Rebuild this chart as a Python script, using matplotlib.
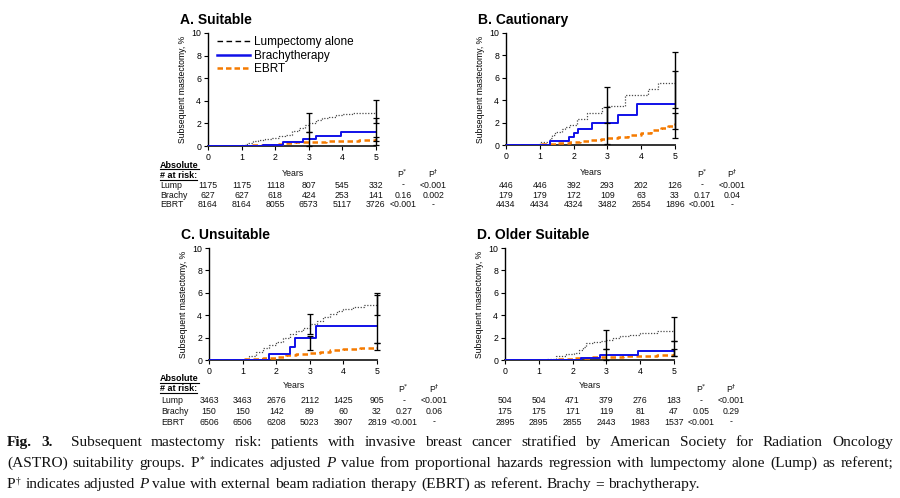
import matplotlib
matplotlib.use("Agg")
import matplotlib.pyplot as plt
from matplotlib.lines import Line2D
from matplotlib.transforms import blended_transform_factory

# ---------------- data ----------------
years = [0, 1, 2, 3, 4, 5]
row_names = ["Lump", "Brachy", "EBRT"]

titles = ["A. Suitable", "B. Cautionary", "C. Unsuitable", "D. Older Suitable"]

# numbers at risk per panel: lump, brachy, ebrt
risk_A_lump = [1175, 1175, 1118, 807, 545, 332]
risk_A_brachy = [627, 627, 618, 424, 253, 141]
risk_A_ebrt = [8164, 8164, 8055, 6573, 5117, 3726]
risk_B_lump = [446, 446, 392, 293, 202, 126]
risk_B_brachy = [179, 179, 172, 109, 63, 33]
risk_B_ebrt = [4434, 4434, 4324, 3482, 2654, 1896]
risk_C_lump = [3463, 3463, 2676, 2112, 1425, 905]
risk_C_brachy = [150, 150, 142, 89, 60, 32]
risk_C_ebrt = [6506, 6506, 6208, 5023, 3907, 2819]
risk_D_lump = [504, 504, 471, 379, 276, 183]
risk_D_brachy = [175, 175, 171, 119, 81, 47]
risk_D_ebrt = [2895, 2895, 2855, 2443, 1983, 1537]

# P* and P-dagger per row (lump, brachy, ebrt)
pstar_A = ["-", "0.16", "<0.001"]
pdag_A = ["<0.001", "0.002", "-"]
pstar_B = ["-", "0.17", "<0.001"]
pdag_B = ["<0.001", "0.04", "-"]
pstar_C = ["-", "0.27", "<0.001"]
pdag_C = ["<0.001", "0.06", "-"]
pstar_D = ["-", "0.05", "<0.001"]
pdag_D = ["<0.001", "0.29", "-"]

# cumulative curves (step functions): years, percent
A_lump_x = [0, 1.0, 1.1, 1.2, 1.35, 1.5, 1.7, 1.9, 2.1, 2.3, 2.5, 2.7, 2.9, 3.0, 3.2, 3.4, 3.6, 3.8, 4.0, 4.3, 4.6, 5.0]
A_lump_y = [0, 0.05, 0.15, 0.3, 0.45, 0.55, 0.65, 0.75, 0.85, 1.0, 1.3, 1.6, 1.85, 2.05, 2.3, 2.5, 2.6, 2.7, 2.8, 2.9, 2.95, 3.0]
A_brachy_x = [0, 1.63, 2.23, 2.83, 3.2, 3.97, 5.0]
A_brachy_y = [0, 0.1, 0.38, 0.6, 0.9, 1.25, 1.25]
A_ebrt_x = [0, 1.0, 1.3, 1.6, 2.0, 2.3, 2.6, 3.0, 3.5, 4.0, 4.5, 5.0]
A_ebrt_y = [0, 0.03, 0.07, 0.1, 0.15, 0.28, 0.32, 0.35, 0.42, 0.45, 0.5, 0.6]

B_lump_x = [0, 1.0, 1.3, 1.35, 1.45, 1.65, 1.75, 1.9, 2.1, 2.4, 2.83, 2.98, 3.52, 4.2, 4.5, 5.0]
B_lump_y = [0, 0.3, 0.6, 0.9, 1.2, 1.4, 1.6, 1.8, 2.3, 2.85, 3.35, 3.5, 4.5, 5.0, 5.55, 5.55]
B_brachy_x = [0, 1.3, 1.87, 2.01, 2.14, 2.55, 3.3, 3.89, 5.0]
B_brachy_y = [0, 0.36, 0.75, 1.1, 1.46, 1.95, 2.7, 3.65, 3.65]
B_ebrt_x = [0, 1.0, 1.5, 1.9, 2.2, 2.5, 2.8, 3.0, 3.3, 3.6, 4.0, 4.3, 4.6, 4.8, 5.0]
B_ebrt_y = [0, 0.05, 0.15, 0.25, 0.35, 0.45, 0.55, 0.65, 0.75, 0.85, 1.05, 1.3, 1.5, 1.7, 1.95]

C_lump_x = [0, 1.0, 1.05, 1.2, 1.4, 1.6, 1.8, 2.0, 2.2, 2.4, 2.6, 2.8, 3.0, 3.2, 3.4, 3.6, 3.8, 4.0, 4.3, 4.6, 5.0]
C_lump_y = [0, 0, 0.1, 0.4, 0.75, 1.05, 1.35, 1.65, 2.0, 2.3, 2.6, 2.9, 3.2, 3.5, 3.8, 4.1, 4.35, 4.55, 4.75, 4.9, 5.0]
C_brachy_x = [0, 1.78, 2.41, 2.57, 3.18, 5.0]
C_brachy_y = [0, 0.55, 1.2, 2.0, 3.0, 3.0]
C_ebrt_x = [0, 1.0, 1.3, 1.6, 2.0, 2.3, 2.6, 3.0, 3.3, 3.6, 4.0, 4.5, 5.0]
C_ebrt_y = [0, 0.05, 0.12, 0.2, 0.3, 0.42, 0.52, 0.65, 0.75, 0.85, 0.98, 1.08, 1.18]

D_lump_x = [0, 1.0, 1.2, 1.5, 1.8, 2.05, 2.2, 2.3, 2.4, 2.6, 2.8, 3.0, 3.2, 3.4, 3.7, 4.0, 4.5, 5.0]
D_lump_y = [0, 0.02, 0.1, 0.35, 0.55, 0.6, 0.9, 1.2, 1.5, 1.6, 1.72, 1.8, 1.95, 2.14, 2.25, 2.37, 2.6, 2.65]
D_brachy_x = [0, 2.26, 2.8, 3.94, 5.0]
D_brachy_y = [0, 0.15, 0.42, 0.8, 0.8]
D_ebrt_x = [0, 1.0, 1.5, 2.0, 2.5, 3.0, 3.5, 4.0, 4.5, 5.0]
D_ebrt_y = [0, 0.02, 0.05, 0.15, 0.25, 0.3, 0.35, 0.4, 0.45, 0.55]

# confidence intervals drawn at 3 and 5 years: x, low, high
A_ci_x = [3, 3, 5, 5, 5]
A_ci_lo = [1.2, 0.0, 2.0, 0.1, 0.4]
A_ci_hi = [2.95, 1.2, 4.05, 2.5, 0.8]
B_ci_x = [3, 3, 5, 5, 5]
B_ci_lo = [2.0, 0.1, 3.34, 0.6, 1.4]
B_ci_hi = [5.15, 3.4, 8.27, 6.63, 2.9]
C_ci_x = [3, 3, 5, 5, 5]
C_ci_lo = [2.3, 0.86, 4.0, 1.5, 0.9]
C_ci_hi = [4.14, 2.1, 6.0, 5.8, 1.5]
D_ci_x = [3, 3, 5, 5, 5]
D_ci_lo = [0.95, 0.0, 1.72, 0.4, 0.4]
D_ci_hi = [2.67, 0.95, 3.86, 1.72, 0.95]

caption_line1 = "Subsequent mastectomy risk: patients with invasive breast cancer stratified by American Society for Radiation Oncology"
caption_line2 = "(ASTRO) suitability groups. indicates adjusted value from proportional hazards regression with lumpectomy alone (Lump) as referent;"
caption_line3 = "indicates adjusted value with external beam radiation therapy (EBRT) as referent. Brachy = brachytherapy."

# ---------------- figure ----------------
W, H = 900, 498
fig = plt.figure(figsize=(W / 100, H / 100), dpi=100)
fig.patch.set_facecolor("white")
SANS = "Liberation Sans"
SERIF = "Liberation Serif"


def fx(px):
    return px / W


def fy(py):
    return 1 - py / H


C_LUMP = "#4a4a4a"
C_BRACHY = "#1010e8"
C_EBRT = "#f57a00"

panels = [
    dict(box=(208, 376, 33, 146), title=titles[0], lump=(A_lump_x, A_lump_y), brachy=(A_brachy_x, A_brachy_y),
         ebrt=(A_ebrt_x, A_ebrt_y), ci=(A_ci_x, A_ci_lo, A_ci_hi),
         risk=(risk_A_lump, risk_A_brachy, risk_A_ebrt), pstar=pstar_A, pdag=pdag_A,
         rows=(185, 195, 204.5), years_y=173, phead_y=174, abs_y=(165, 175), legend=True, labels=True),
    dict(box=(506, 675, 33, 145), title=titles[1], lump=(B_lump_x, B_lump_y), brachy=(B_brachy_x, B_brachy_y),
         ebrt=(B_ebrt_x, B_ebrt_y), ci=(B_ci_x, B_ci_lo, B_ci_hi),
         risk=(risk_B_lump, risk_B_brachy, risk_B_ebrt), pstar=pstar_B, pdag=pdag_B,
         rows=(185, 195, 204.5), years_y=172, phead_y=174, abs_y=None, legend=False, labels=False),
    dict(box=(209, 377, 248, 360), title=titles[2], lump=(C_lump_x, C_lump_y), brachy=(C_brachy_x, C_brachy_y),
         ebrt=(C_ebrt_x, C_ebrt_y), ci=(C_ci_x, C_ci_lo, C_ci_hi),
         risk=(risk_C_lump, risk_C_brachy, risk_C_ebrt), pstar=pstar_C, pdag=pdag_C,
         rows=(400.5, 411, 422), years_y=386, phead_y=388.5, abs_y=(378, 388), legend=False, labels=True),
    dict(box=(505, 674, 248, 360), title=titles[3], lump=(D_lump_x, D_lump_y), brachy=(D_brachy_x, D_brachy_y),
         ebrt=(D_ebrt_x, D_ebrt_y), ci=(D_ci_x, D_ci_lo, D_ci_hi),
         risk=(risk_D_lump, risk_D_brachy, risk_D_ebrt), pstar=pstar_D, pdag=pdag_D,
         rows=(400.5, 411, 422), years_y=385, phead_y=388.5, abs_y=None, legend=False, labels=False),
]

renderer = fig.canvas.get_renderer()

for p in panels:
    l, r, t, b = p["box"]
    ax = fig.add_axes([fx(l), fy(b), fx(r - l), (b - t) / H])
    ax.set_xlim(0, 5)
    ax.set_ylim(0, 10)
    ax.patch.set_alpha(0)
    for s in ("top", "right"):
        ax.spines[s].set_visible(False)
    ax.spines["left"].set_linewidth(1.0)
    ax.spines["bottom"].set_linewidth(1.4)
    ax.spines["bottom"].set_color("#333333")
    ax.set_xticks(years)
    ax.set_yticks([0, 2, 4, 6, 8, 10])
    ax.tick_params(axis="both", direction="out", length=3, width=0.8, labelsize=6.3, pad=2)
    for lab in ax.get_xticklabels() + ax.get_yticklabels():
        lab.set_fontfamily(SANS)
    ax.set_ylabel("Subsequent mastectomy, %", fontsize=6.2, family=SANS, labelpad=3)

    ax.plot(*p["lump"], drawstyle="steps-post", color=C_LUMP, lw=0.9, ls=(0, (1, 1.3)), zorder=3)
    ax.plot(*p["ebrt"], drawstyle="steps-post", color=C_EBRT, lw=1.8, ls=(0, (2.2, 1.4)), zorder=4)
    ax.plot(*p["brachy"], drawstyle="steps-post", color=C_BRACHY, lw=1.4, zorder=5)
    cx, lo, hi = p["ci"]
    mid = [(a + c) / 2 for a, c in zip(lo, hi)]
    half = [(c - a) / 2 for a, c in zip(lo, hi)]
    ax.errorbar(cx, mid, yerr=half, fmt="none", ecolor="black", elinewidth=1.0, capsize=2.5,
                capthick=0.9, zorder=6, clip_on=False)

    fig.text(fx(l - 28), fy(t - 13), p["title"], fontsize=10, weight="bold", family=SANS,
             ha="left", va="center")

    if p["legend"]:
        handles = [Line2D([], [], color="black", lw=1.0, ls=(0, (4, 2.5))),
                   Line2D([], [], color=C_BRACHY, lw=1.8),
                   Line2D([], [], color=C_EBRT, lw=1.8, ls=(0, (2.2, 1.2)))]
        ax.legend(handles, ["Lumpectomy alone", "Brachytherapy", "EBRT"], loc="upper left",
                  bbox_to_anchor=(0.055, 0.97), frameon=False, handlelength=2.8,
                  handletextpad=0.35, labelspacing=0.12, borderpad=0, borderaxespad=0,
                  prop=dict(family=SANS, size=8.5))

    # number-at-risk table
    tr = blended_transform_factory(ax.transData, fig.transFigure)
    tkw = dict(fontsize=6.3, family=SANS, va="center", transform=tr, color="#111111")
    ax.text(2.52, fy(p["years_y"]), "Years", ha="center", **tkw)
    ax.text(5.8, fy(p["phead_y"]), r"P$^{*}$", ha="center", **tkw)
    ax.text(6.7, fy(p["phead_y"]), r"P$^{\dagger}$", ha="center", **tkw)
    for ri, (vals, ps, pd) in enumerate(zip(p["risk"], p["pstar"], p["pdag"])):
        yy = fy(p["rows"][ri])
        for xv, v in zip(years, vals):
            ax.text(xv, yy, str(v), ha="center", **tkw)
        ax.text(5.8, yy, ps, ha="center", **tkw)
        ax.text(6.7, yy, pd, ha="center", **tkw)
        if p["labels"]:
            ax.text(-1.42, yy, row_names[ri], ha="left", **tkw)
    if p["abs_y"] is not None:
        for txt, yp in zip(["Absolute", "# at risk:"], p["abs_y"]):
            tt = fig.text(fx(160), fy(yp), txt, fontsize=6.5, weight="bold", family=SANS,
                          ha="left", va="center")
            ext = tt.get_window_extent(renderer)
            fig.add_artist(Line2D([fx(160), fx(160 + ext.width)], [fy(yp + 4.5)] * 2,
                                  color="black", lw=0.8))

# ---------------- caption (justified) ----------------
CAP_FS = 11.1


def measure(s, **kw):
    tt = fig.text(0, 0, s, **kw)
    w = tt.get_window_extent(renderer).width
    tt.remove()
    return w


def draw_line(words, base_px, x0, x1, justify):
    placed = []
    widths = []
    for w in words:
        segs = []
        off = 0.0
        for s, kind in w:
            kw = dict(family=SERIF, fontsize=CAP_FS, va="baseline", ha="left", color="#111111")
            dy = 0
            if kind == "b":
                kw["weight"] = "bold"
            elif kind == "i":
                kw["style"] = "italic"
            elif kind == "sup":
                kw["fontsize"] = CAP_FS * 0.62
                dy = 5
            tt = fig.text(0, 0, s, **kw)
            wd = tt.get_window_extent(renderer).width
            segs.append((tt, off, dy))
            off += wd + (1.0 if kind == "sup" else 0.0)
        placed.append(segs)
        widths.append(off)
    space = measure("a a", family=SERIF, fontsize=CAP_FS) - measure("aa", family=SERIF, fontsize=CAP_FS)
    if justify and len(words) > 1:
        gap = max((x1 - x0 - sum(widths)) / (len(words) - 1), space * 0.6)
    else:
        gap = space
    x = x0
    for segs, wd in zip(placed, widths):
        for tt, off, dy in segs:
            tt.set_position((fx(x + off), fy(base_px - dy)))
        x += wd + gap


def plain(s):
    return [[(w, "n")] for w in s.split()]


line1 = [[("Fig.", "b")], [("3.", "b")], [("", "n")]] + plain(caption_line1)
l2 = caption_line2.split()
line2 = plain(" ".join(l2[:3])) + [[("P", "n"), ("*", "sup")]] + plain(" ".join(l2[3:5])) + \
    [[("P", "i")]] + plain(" ".join(l2[5:]))
l3 = caption_line3.split()
line3 = [[("P", "n"), ("\u2020", "sup")]] + plain(" ".join(l3[:2])) + [[("P", "i")]] + plain(" ".join(l3[2:]))

draw_line(line1, 446, 7, 893, True)
draw_line(line2, 467, 7, 893, True)
draw_line(line3, 488, 7, 893, False)

fig.savefig("out.png", dpi=100, facecolor="white")
